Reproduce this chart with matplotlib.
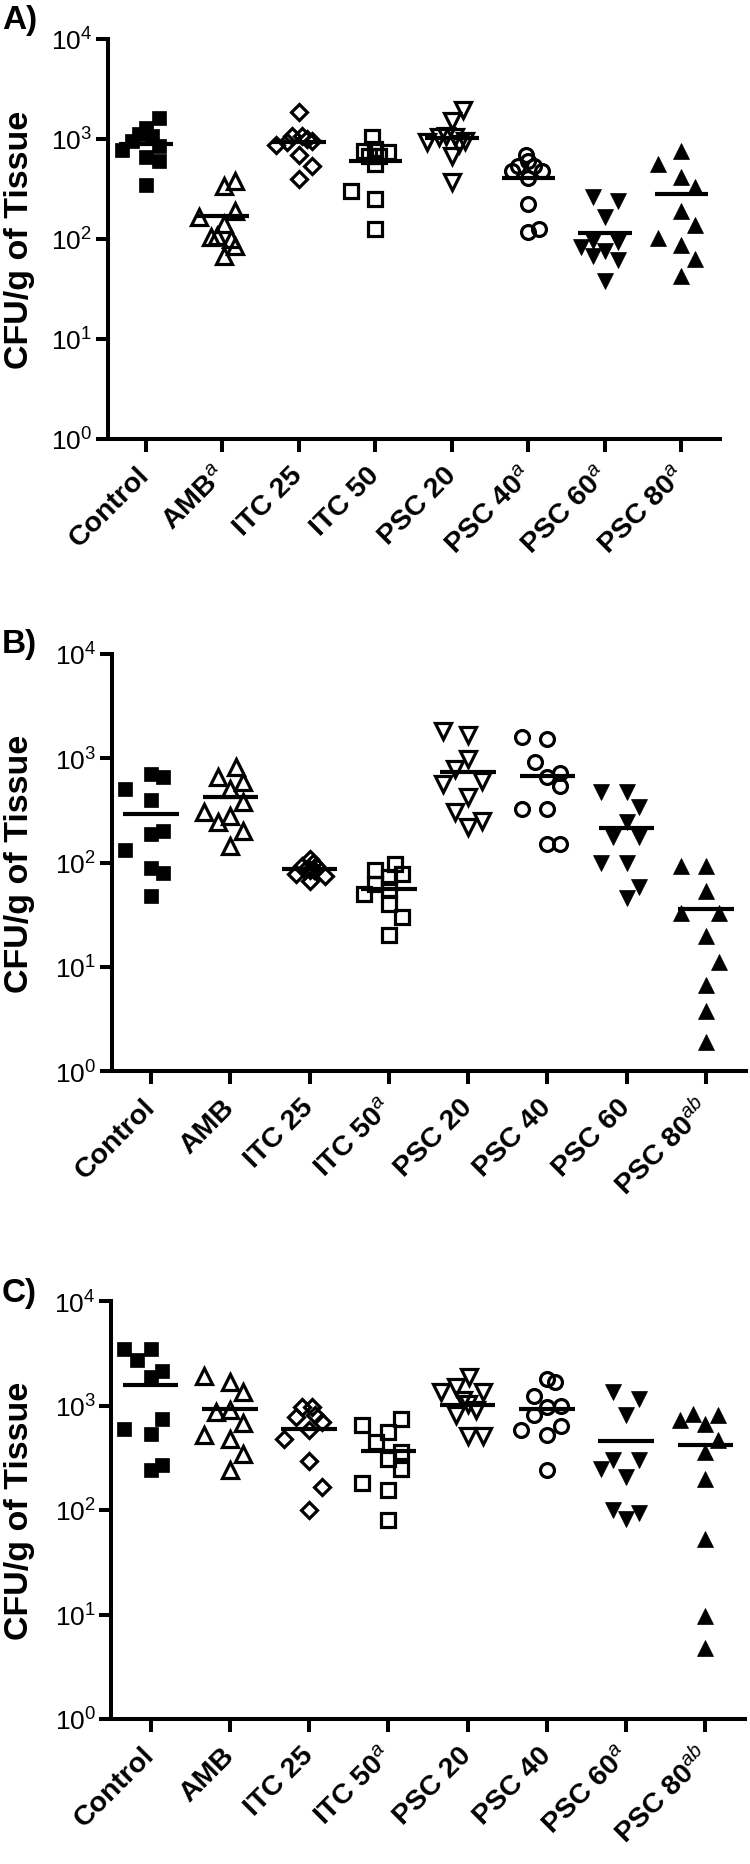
import matplotlib
matplotlib.use('Agg')
import matplotlib.pyplot as plt
from matplotlib.ticker import LogLocator, NullLocator
import numpy as np

plt.rcParams['font.family'] = ['Liberation Sans', 'DejaVu Sans']
plt.rcParams['mathtext.fontset'] = 'custom'
plt.rcParams['mathtext.rm'] = 'Liberation Sans'
plt.rcParams['mathtext.it'] = 'Liberation Sans:italic'
plt.rcParams['mathtext.bf'] = 'Liberation Sans:bold'
plt.rcParams['mathtext.default'] = 'regular'

# ---------------- data (CFU/g of tissue) ----------------
labels_A = ['Control', r'AMB$^{\mathit{a}}$', 'ITC 25', 'ITC 50', 'PSC 20',
            r'PSC 40$^{\mathit{a}}$', r'PSC 60$^{\mathit{a}}$', r'PSC 80$^{\mathit{a}}$']
labels_B = ['Control', 'AMB', 'ITC 25', r'ITC 50$^{\mathit{a}}$', 'PSC 20', 'PSC 40',
            'PSC 60', r'PSC 80$^{\mathit{ab}}$']
labels_C = ['Control', 'AMB', 'ITC 25', r'ITC 50$^{\mathit{a}}$', 'PSC 20', 'PSC 40',
            r'PSC 60$^{\mathit{a}}$', r'PSC 80$^{\mathit{ab}}$']

cfu_A = [
    [1610, 1279, 1122, 962, 776, 1080, 858, 656, 607, 347],
    [341, 383, 165, 189, 141, 104, 108, 100, 86, 68],
    [1875, 871, 940, 1080, 1080, 962, 692, 533, 398, 1000],
    [1040, 764, 794, 735, 681, 681, 562, 304, 251, 126],
    [1964, 1525, 926, 1040, 1080, 1040, 962, 681, 369, 891],
    [692, 541, 541, 482, 482, 404, 224, 118, 126, 607],
    [261, 242, 165, 83, 96, 93, 68, 76, 61, 38],
    [764, 562, 414, 329, 192, 138, 102, 87, 63, 43],
]
mean_A = [891, 171, 940, 598, 1016, 411, 115, 280]

cfu_B = [
    [706, 656, 507, 400, 202, 188, 133, 88, 79, 48],
    [819, 656, 588, 507, 378, 303, 281, 243, 202, 145],
    [108, 93, 93, 78, 75, 67, 84, 84, 85, 100],
    [97, 84, 78, 72, 62, 50, 56, 40, 30, 20],
    [1840, 1671, 984, 789, 566, 609, 422, 307, 252, 217],
    [1588, 1530, 927, 656, 722, 538, 326, 326, 150, 150],
    [471, 471, 338, 246, 174, 174, 100, 100, 58, 46],
    [93, 93, 53.7, 32.8, 32.8, 19.9, 11.2, 6.7, 3.8, 1.9],
]
mean_B = [292, 422, 86.6, 56, 733, 680, 213, 35.8]

cfu_C = [
    [3467, 3467, 2723, 2123, 1862, 591, 747, 537, 268, 244],
    [1931, 1667, 1339, 864, 910, 679, 518, 482, 347, 240],
    [964, 964, 774, 693, 587, 482, 295, 167, 100, 803],
    [747, 645, 557, 447, 359, 311, 249, 180, 157, 80],
    [1862, 1339, 1496, 1339, 1038, 803, 896, 507, 507, 1122],
    [1795, 1667, 1245, 978, 994, 803, 587, 631, 518, 244],
    [1339, 1157, 803, 304, 299, 249, 205, 101, 94, 82],
    [730, 821, 803, 669, 471, 359, 200, 52.6, 9.6, 4.8],
]
mean_C = [1585, 916, 600, 367, 1022, 930, 454, 416]

# horizontal scatter offsets (category units)
jit_A = [
    [0.17, 0, -0.09, -0.18, -0.31, 0.085, 0.17, 0, 0.17, 0],
    [0.02, 0.17, -0.30, 0.17, 0.02, -0.15, -0.07, 0.11, 0.17, 0.02],
    [0, -0.30, -0.15, -0.09, 0.04, 0.17, 0, 0.17, 0, 0.11],
    [-0.04, -0.15, 0, 0.16, -0.08, 0.05, 0, -0.32, 0, 0],
    [0.15, 0, -0.33, -0.17, -0.07, 0.04, 0.17, 0, 0, 0.09],
    [-0.03, -0.14, 0.07, -0.21, 0.18, -0.01, -0.01, -0.01, 0.14, 0.0],
    [-0.16, 0.17, 0, -0.31, -0.16, 0.17, -0.16, 0, 0.17, 0],
    [0, -0.30, 0, 0.18, 0, 0.18, -0.30, 0, 0.18, 0],
]
jit_B = [
    [0, 0.15, -0.33, 0, 0.15, 0, -0.33, 0, 0.15, 0],
    [0.07, -0.16, 0.16, 0, 0.16, -0.33, 0, -0.16, 0.16, 0],
    [0, -0.09, 0.08, -0.17, 0.19, 0, -0.06, 0.06, 0, 0.04],
    [0.08, -0.17, 0.17, 0, -0.17, -0.32, 0, 0, 0.17, 0],
    [-0.32, 0, 0, -0.16, -0.32, 0.17, 0, -0.16, 0.17, 0],
    [-0.32, 0, -0.15, 0, 0.16, 0.16, -0.32, 0, 0, 0.16],
    [-0.32, 0, 0.16, 0, -0.17, 0.16, -0.32, 0, 0.16, 0],
    [-0.32, 0, 0, -0.32, 0.16, 0, 0.16, 0, 0, 0],
]
jit_C = [
    [-0.34, 0, -0.17, 0.14, 0, -0.34, 0.14, 0, 0.14, 0],
    [-0.33, 0, 0.17, -0.17, 0, 0.17, -0.33, 0, 0.17, 0],
    [0.04, -0.09, -0.17, 0.16, 0, -0.32, 0, 0.16, 0, 0.08],
    [0.16, -0.33, 0, -0.16, 0.16, 0, 0.16, -0.33, 0, 0],
    [0.02, -0.33, -0.15, 0.19, 0, -0.15, 0.11, 0, 0.19, -0.06],
    [0, 0.1, -0.16, 0, 0.18, -0.16, -0.33, 0.18, 0, 0],
    [-0.17, 0.16, 0, -0.17, 0.16, -0.32, 0, -0.17, 0.16, 0],
    [-0.32, -0.16, 0.16, 0, 0.16, 0, 0, 0, 0, 0],
]

# ---------------- styles ----------------
# (marker, filled, markersize)
styles = [('s', True, 10.5), ('^', False, 11), ('D', False, 8), ('s', False, 10),
          ('v', False, 11), ('o', False, 10), ('v', True, 11.5), ('^', True, 11.5)]

W, H = 750, 1865
fig = plt.figure(figsize=(W / 100, H / 100), dpi=100)

panels = [
    (cfu_A, jit_A, mean_A, labels_A, 'A)', (107.6, 40, 612, 400), 29),
    (cfu_B, jit_B, mean_B, labels_B, 'B)', (111.5, 655, 634, 417), 653),
    (cfu_C, jit_C, mean_C, labels_C, 'C)', (111.0, 1302, 634, 418), 1302),
]
ylabel_x_px = 35.0

for cfu, jit, means, labels, letter, (l, t, w, h), base in panels:
    ax = fig.add_axes([l / W, 1 - (t + h) / H, w / W, h / H])
    for i, (vals, offs) in enumerate(zip(cfu, jit)):
        m, filled, ms = styles[i]
        ax.plot(i + np.asarray(offs), vals, linestyle='none', marker=m, ms=ms,
                mfc='black' if filled else 'none', mec='black',
                mew=0.5 if filled else 2.3, clip_on=False, zorder=3)
        ax.hlines(means[i], i - 0.35, i + 0.35, color='black', lw=3.0, zorder=4)
    ax.set_yscale('log')
    ax.set_ylim(1, 1e4)
    ax.set_xlim(-0.5, 7.5)
    ax.yaxis.set_major_locator(LogLocator(base=10, numticks=10))
    ax.yaxis.set_minor_locator(NullLocator())
    ax.set_xticks(range(8))
    ax.set_xticklabels(labels, rotation=45, ha='right', va='center',
                       rotation_mode='anchor', fontsize=20.5, fontweight='bold')
    for s in ['top', 'right']:
        ax.spines[s].set_visible(False)
    for s in ['left', 'bottom']:
        ax.spines[s].set_linewidth(2.9)
    ax.tick_params(axis='both', which='major', length=9, width=2.9, direction='out')
    ax.tick_params(axis='y', labelsize=19, pad=2)
    ax.tick_params(axis='x', pad=14)
    ax.set_ylabel('CFU/g of Tissue', fontsize=24.5, fontweight='bold')
    ax.yaxis.set_label_coords((ylabel_x_px - l) / w, 0.5)
    fig.text(2 / W, 1 - base / H, letter, fontsize=24, fontweight='bold',
             ha='left', va='baseline')

fig.savefig('out.png', dpi=100, facecolor='white')
